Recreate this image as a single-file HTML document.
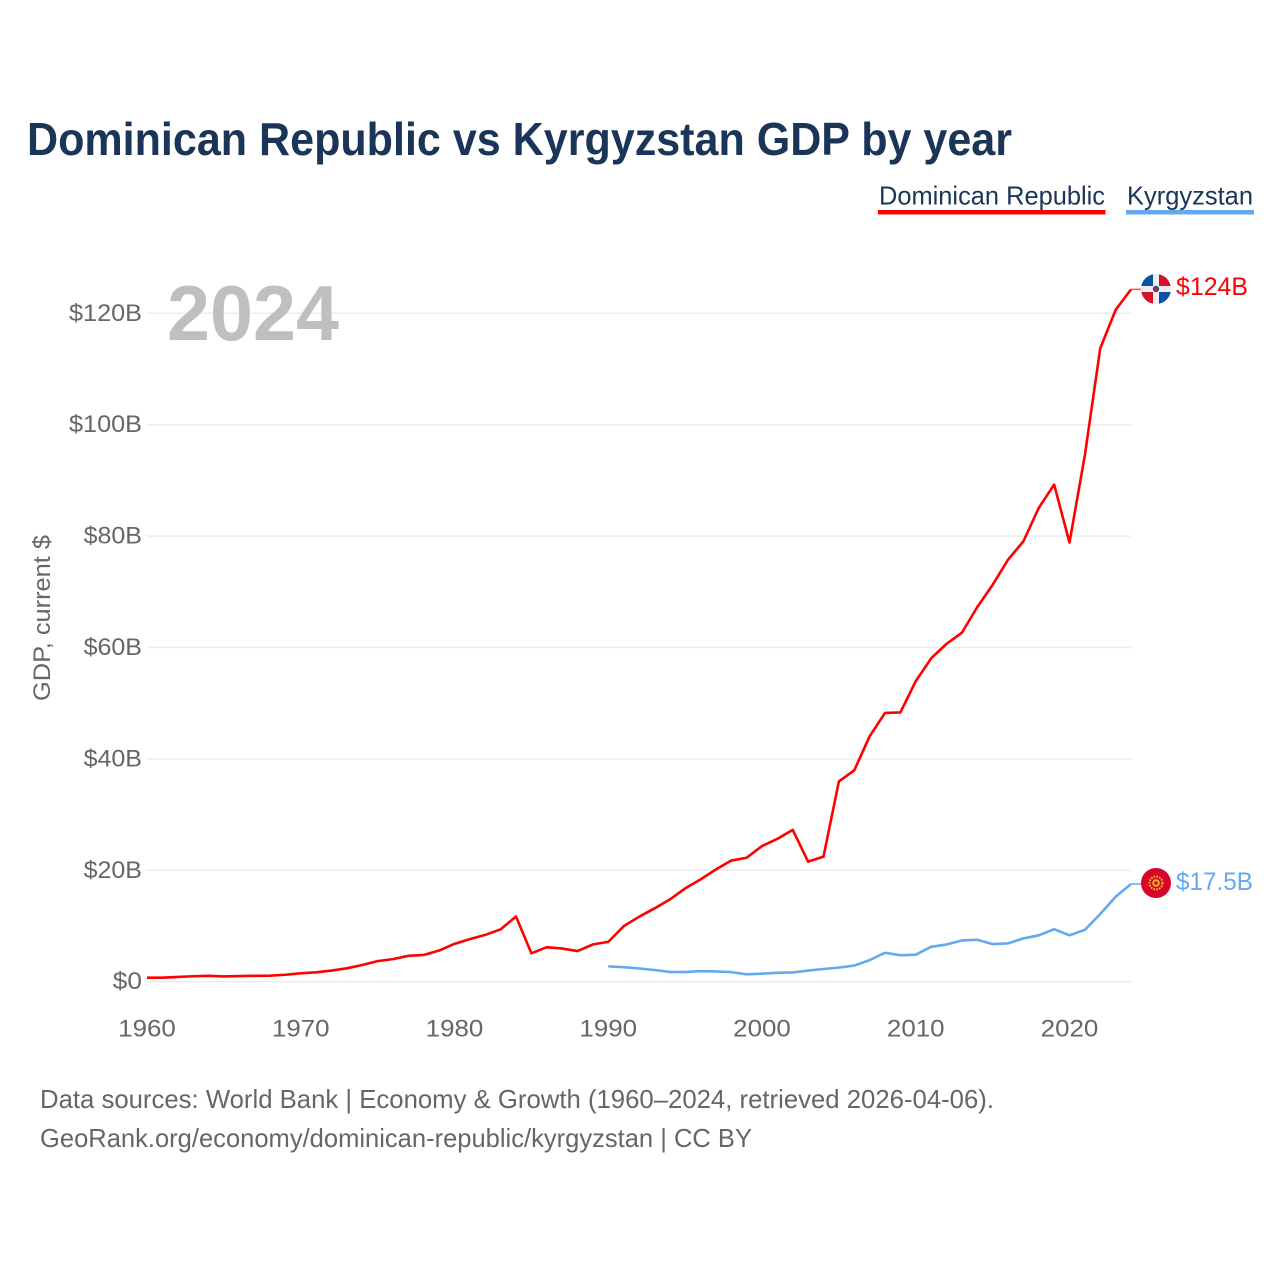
<!DOCTYPE html>
<html lang="en">
<head>
<meta charset="utf-8">
<title>Dominican Republic vs Kyrgyzstan GDP by year</title>
<style>
html,body{margin:0;padding:0;background:#fff;width:1280px;height:1280px;overflow:hidden}
svg{display:block}
text{font-family:"Liberation Sans",sans-serif}
</style>
</head>
<body>
<svg id="chart" xmlns="http://www.w3.org/2000/svg" width="1280" height="1280" viewBox="0 0 1280 1280">
  <rect width="1280" height="1280" fill="#fff"/>
  <text x="27" y="155" font-size="46" font-weight="700" fill="#1a3557" textLength="985" lengthAdjust="spacingAndGlyphs">Dominican Republic vs Kyrgyzstan GDP by year</text>

  <g>
    <text x="879" y="204.500" font-size="26" fill="#1a3557" textLength="226" lengthAdjust="spacingAndGlyphs">Dominican Republic</text>
    <rect x="878" y="210" width="227.500" height="4.500" fill="#ff0000"/>
  </g>
  <g>
    <text x="1127" y="204.500" font-size="26" fill="#1a3557" textLength="126" lengthAdjust="spacingAndGlyphs">Kyrgyzstan</text>
    <rect x="1126" y="210" width="128" height="4.500" fill="#63a9ee"/>
  </g>

  <text transform="translate(50,618) rotate(-90)" text-anchor="middle" font-size="24" fill="#666" textLength="166" lengthAdjust="spacingAndGlyphs">GDP, current $</text>

  <g id="grid"></g>
  <g id="y-ticks"></g>
  <g id="x-ticks"></g>

  <text x="167" y="340" font-size="78" font-weight="700" fill="#bfbfbf" textLength="172" lengthAdjust="spacingAndGlyphs">2024</text>

  <g id="series"></g>

  <defs>
    <clipPath id="flag-clip-do"><circle cx="1156" cy="289" r="15"/></clipPath>
  </defs>
  <g clip-path="url(#flag-clip-do)">
    <rect x="1141" y="274" width="30" height="30" fill="#eeeeee"/>
    <rect x="1141" y="274" width="12" height="12" fill="#0a4fa8"/>
    <rect x="1159" y="274" width="12" height="12" fill="#d80f2f"/>
    <rect x="1141" y="292" width="12" height="12" fill="#d80f2f"/>
    <rect x="1159" y="292" width="12" height="12" fill="#0a4fa8"/>
    <circle cx="1156" cy="289" r="3.200" fill="#2b4f8f"/>
    <circle cx="1156" cy="289" r="1.600" fill="#c8202f"/>
  </g>
  <g>
    <circle cx="1156" cy="883" r="15" fill="#d90429"/>
    <circle cx="1156" cy="883" r="6.500" fill="none" stroke="#f5c22c" stroke-width="2" stroke-dasharray="1.600 1.200"/>
    <circle cx="1156" cy="883" r="3.800" fill="#f3b02e"/>
    <circle cx="1156" cy="883" r="1.800" fill="#d90429"/>
  </g>

  <text x="1176" y="295" font-size="25" fill="#ff0000" textLength="72" lengthAdjust="spacingAndGlyphs">$124B</text>
  <text x="1176" y="890" font-size="25" fill="#63a9ee" textLength="77" lengthAdjust="spacingAndGlyphs">$17.5B</text>

  <text x="40" y="1108" font-size="26" fill="#666" textLength="954" lengthAdjust="spacingAndGlyphs">Data sources: World Bank | Economy &amp; Growth (1960–2024, retrieved 2026-04-06).</text>
  <text x="40" y="1147" font-size="26" fill="#666" textLength="712" lengthAdjust="spacingAndGlyphs">GeoRank.org/economy/dominican-republic/kyrgyzstan | CC BY</text>
</svg>
<script>
const yTickValues = [0, 20, 40, 60, 80, 100, 120];
const yTickLabels = ["$0", "$20B", "$40B", "$60B", "$80B", "$100B", "$120B"];
const xTickYears = [1960, 1970, 1980, 1990, 2000, 2010, 2020];
const xTickLabels = ["1960", "1970", "1980", "1990", "2000", "2010", "2020"];
const dominicanStartYear = 1960;
const dominicanGdp = [0.72,0.72,0.86,0.98,1.05,0.94,1.02,1.05,1.08,1.25,1.5,1.68,2.0,2.4,3.0,3.7,4.05,4.65,4.8,5.6,6.8,7.65,8.4,9.4,11.7,5.1,6.2,5.95,5.5,6.7,7.15,9.95,11.65,13.15,14.75,16.75,18.35,20.15,21.75,22.25,24.35,25.65,27.25,21.55,22.45,35.95,37.95,44.05,48.25,48.35,53.95,58.05,60.65,62.65,67.25,71.25,75.75,79.05,85.05,89.25,78.85,94.55,113.7,120.6,124.3];
const kyrgyzStartYear = 1990;
const kyrgyzGdp = [2.75,2.6,2.38,2.1,1.75,1.73,1.9,1.84,1.72,1.32,1.44,1.6,1.67,2.0,2.28,2.53,2.9,3.87,5.2,4.75,4.85,6.27,6.67,7.4,7.53,6.75,6.88,7.77,8.33,9.43,8.33,9.32,12.15,15.25,17.55];

const NS = "http://www.w3.org/2000/svg";
const xScale = function (year) { return 147 + (year - 1960) * 15.375; };
const yScale = function (v) { return 981.7 - v * 5.57; };
const lastYear = 2024;

function make(tag, attrs, parent) {
  const el = document.createElementNS(NS, tag);
  Object.keys(attrs).forEach(function (k) { el.setAttribute(k, attrs[k]); });
  parent.appendChild(el);
  return el;
}

const gridGroup = document.getElementById("grid");
const yTickGroup = document.getElementById("y-ticks");
yTickValues.forEach(function (v, i) {
  const line = make("line", { x1: xScale(1960), x2: xScale(lastYear), y1: yScale(v), y2: yScale(v), stroke: "#ececec", "stroke-width": 1.5 }, gridGroup);
  
  
  const label = make("text", { x: 142, y: yScale(v) + 7.5, "text-anchor": "end", "font-size": 24, fill: "#666", textLength: yTickLabels[i].length * 14.6, lengthAdjust: "spacingAndGlyphs" }, yTickGroup);
  label.textContent = yTickLabels[i];
  
  
});

const xTickGroup = document.getElementById("x-ticks");
xTickYears.forEach(function (year, i) {
  const label = make("text", { x: xScale(year), y: 1036.5, "text-anchor": "middle", "font-size": 24, fill: "#666", textLength: xTickLabels[i].length * 14.4, lengthAdjust: "spacingAndGlyphs" }, xTickGroup);
  label.textContent = xTickLabels[i];
  
  
});

function linePath(values, startYear) {
  return values.map(function (v, i) {
    return (i ? "L" : "M") + xScale(startYear + i).toFixed(2) + " " + yScale(v).toFixed(2);
  }).join(" ");
}

const seriesGroup = document.getElementById("series");

const kyrgyzLine = make("path", { d: linePath(kyrgyzGdp, kyrgyzStartYear), fill: "none", stroke: "#63a9ee", "stroke-width": 2.6, "stroke-linejoin": "round" }, seriesGroup);



const kyrgyzConnector = make("line", { x1: xScale(lastYear), x2: 1142, y1: yScale(kyrgyzGdp[kyrgyzGdp.length - 1]), y2: yScale(kyrgyzGdp[kyrgyzGdp.length - 1]), stroke: "#63a9ee", "stroke-width": 1.5 }, seriesGroup);



const dominicanLine = make("path", { d: linePath(dominicanGdp, dominicanStartYear), fill: "none", stroke: "#ff0000", "stroke-width": 2.6, "stroke-linejoin": "round" }, seriesGroup);



const dominicanConnector = make("line", { x1: xScale(lastYear), x2: 1142, y1: yScale(dominicanGdp[dominicanGdp.length - 1]), y2: yScale(dominicanGdp[dominicanGdp.length - 1]), stroke: "#ff4d4d", "stroke-width": 1.5 }, seriesGroup);


</script>
</body>
</html>
